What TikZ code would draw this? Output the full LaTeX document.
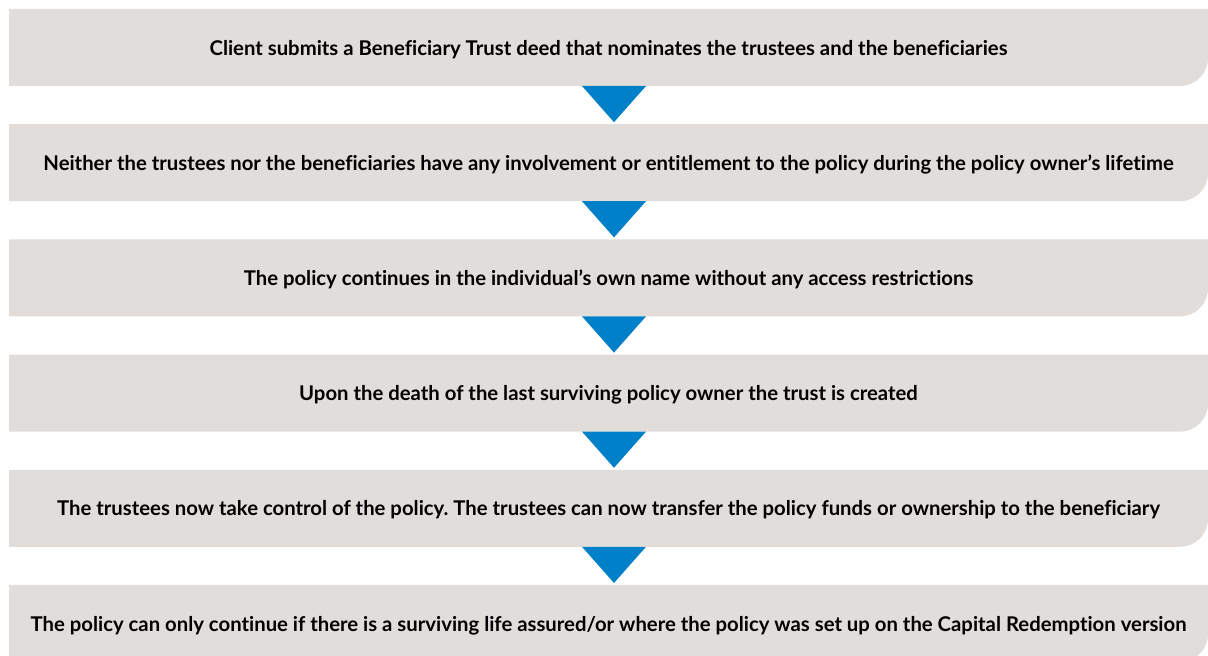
\documentclass[tikz,border=0pt]{standalone}
\usepackage{fontspec}
\setmainfont{Lato}[Ligatures=NoCommon]
\usetikzlibrary{positioning,calc,backgrounds}
\definecolor{boxgrey}{RGB}{225,221,218}
\definecolor{flowblue}{RGB}{0,128,200}
\frenchspacing
\begin{document}
\begin{tikzpicture}[x=1pt,y=1pt,
		flowbox/.style={rectangle,minimum width=1199pt,minimum height=77pt,inner sep=0pt,outer sep=0pt,
				text depth=0pt,font=\fontsize{20.3}{24}\selectfont\bfseries,text=black},
		flowarrow/.style={fill=flowblue}]
	\useasboundingbox (0,0) rectangle (1208,656);
	\node[flowbox] (b1) at (608.5,608.5) {Client submits a Beneficiary Trust deed that nominates the trustees and the beneficiaries};
	\node[flowbox,below=38.2pt of b1] (b2) {Neither the trustees nor the beneficiaries have any involvement or entitlement to the policy during the policy owner’s lifetime};
	\node[flowbox,below=38.2pt of b2] (b3) {The policy continues in the individual’s own name without any access restrictions};
	\node[flowbox,below=38.2pt of b3] (b4) {Upon the death of the last surviving policy owner the trust is created};
	\node[flowbox,below=38.2pt of b4] (b5) {The trustees now take control of the policy. The trustees can now transfer the policy funds or ownership to the beneficiary};
	\node[flowbox,below=38.2pt of b5] (b6) {The policy can only continue if there is a surviving life assured/or where the policy was set up on the Capital Redemption version};
	% grey boxes with one rounded corner
	\begin{pgfonlayer}{background}
		\foreach \b in {b1,b2,b3,b4,b5,b6}
			\fill[boxgrey] (\b.north west) -- (\b.north east) -- ([yshift=28pt]\b.south east)
				arc[start angle=0,end angle=-90,radius=28pt] -- (\b.south west) -- cycle;
	\end{pgfonlayer}
	% blue arrows
	\foreach \i/\j in {b1/b2,b2/b3,b3/b4,b4/b5,b5/b6}
		\fill[flowarrow] ($(\i.south)+(-26.5,0)$) -- ($(\i.south)+(37.5,0)$) -- ($(\j.north)+(5.5,2)$) -- cycle;
\end{tikzpicture}
\end{document}
